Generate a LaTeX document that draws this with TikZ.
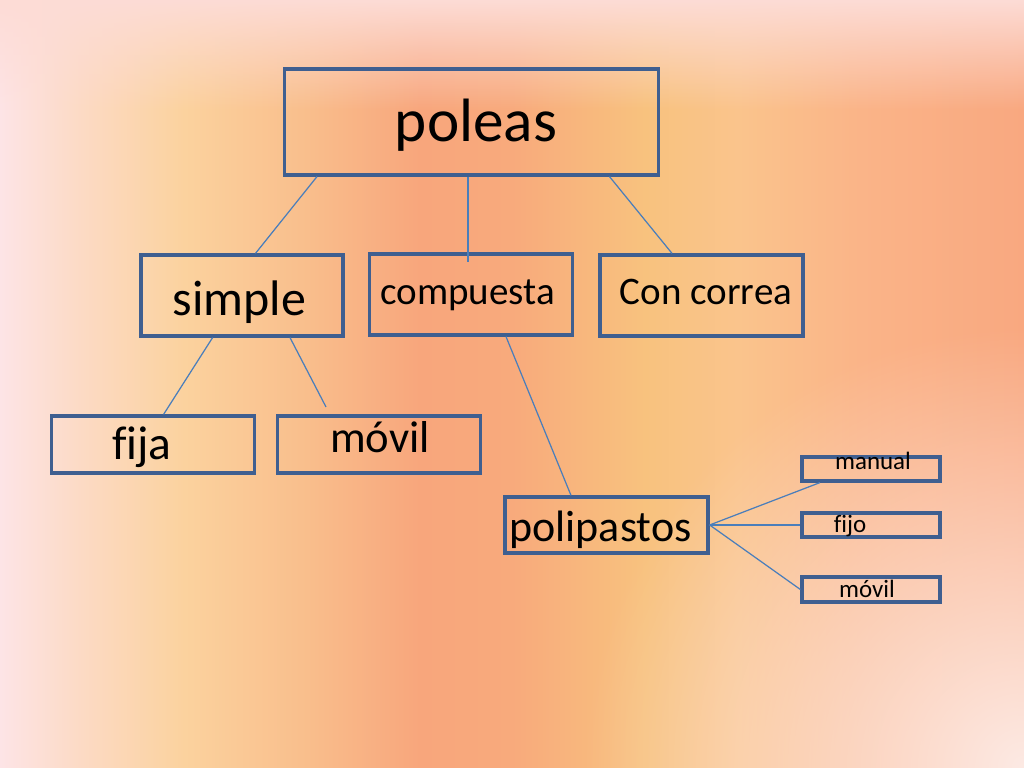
\documentclass[tikz,border=0pt]{standalone}
\usepackage{fontspec}
\setmainfont{Carlito}[Ligatures=NoCommon]
\usetikzlibrary{fadings}

\definecolor{boxline}{HTML}{3F5F90}
\definecolor{linkline}{HTML}{4A7EBB}
\definecolor{bgA}{HTML}{FDE4E6}
\definecolor{bgB}{HTML}{FCDAC4}
\definecolor{bgC}{HTML}{FBD29E}
\definecolor{bgD}{HTML}{F9BE8C}
\definecolor{bgE}{HTML}{F8A67C}
\definecolor{bgF}{HTML}{F8AA7C}
\definecolor{bgG}{HTML}{F8C27E}
\definecolor{bgH}{HTML}{FAC48C}
\definecolor{bgI}{HTML}{FAB488}
\definecolor{bgJ}{HTML}{F9A880}
\definecolor{bgTop}{HTML}{FDDCD6}
\definecolor{bgCorner}{HTML}{FDEAE4}

% stops sit between 25bp and 75bp, the part that fills the path
\pgfdeclarehorizontalshading{slidebg}{100bp}{color(0bp)=(bgA); color(25bp)=(bgA); color(29bp)=(bgB); color(34bp)=(bgC); color(40bp)=(bgD); color(45.5bp)=(bgE); color(50bp)=(bgF); color(56.5bp)=(bgG); color(61bp)=(bgH); color(67bp)=(bgI); color(75bp)=(bgJ); color(100bp)=(bgJ)}
\tikzfading[name=fadecorner, inner color=transparent!0, outer color=transparent!100]

\begin{document}
\begin{tikzpicture}[x=0.01cm, y=-0.01cm]
\tikzset{box/.style={draw=boxline, line width=0.9pt, inner sep=0pt},
  lbl/.style={anchor=base, inner sep=0pt},
  link/.style={draw=linkline, line width=0.35pt}}
\useasboundingbox (0,0) rectangle (1024,768);
\begin{scope}
\clip (0,0) rectangle (1024,768);
\shade[shading=slidebg] (0,0) rectangle (1024,768);
\fill[bgTop, path fading=south] (0,0) rectangle (1024,110);
\fill[bgCorner, path fading=fadecorner] (1024,768) circle (440);
\end{scope}
% boxes
\node[box, minimum width=3.73cm, minimum height=1.06cm] (poleas) at (471.5,122) {};
\node[box, minimum width=2.02cm, minimum height=0.81cm] (simple) at (242,295.5) {};
\node[box, minimum width=2.03cm, minimum height=0.81cm] (compuesta) at (471,294.5) {};
\node[box, minimum width=2.03cm, minimum height=0.81cm] (correa) at (701.5,295.5) {};
\node[box, minimum width=2.03cm, minimum height=0.57cm] (fija) at (153,444.5) {};
\node[box, minimum width=2.03cm, minimum height=0.57cm] (movil) at (379,444.5) {};
\node[box, minimum width=2.03cm, minimum height=0.56cm] (polipastos) at (606.5,525) {};
\node[box, minimum width=1.38cm, minimum height=0.24cm] (manual) at (871,469) {};
\node[box, minimum width=1.38cm, minimum height=0.24cm] (fijo) at (871,525) {};
\node[box, minimum width=1.38cm, minimum height=0.25cm] (movilp) at (871,589.5) {};
% texts
\node[lbl, font=\fontsize{17.4}{20}\selectfont] (poleas-t) at (476,142) {poleas};
\node[lbl, font=\fontsize{14.2}{17}\selectfont] (simple-t) at (239.5,316) {simple};
\node[lbl, font=\fontsize{11.1}{13}\selectfont] (compuesta-t) at (467.5,305) {compuesta};
\node[lbl, font=\fontsize{11.1}{13}\selectfont] (correa-t) at (706,305) {Con correa};
\node[lbl, font=\fontsize{13.5}{16}\selectfont] (fija-t) at (142,460) {fija};
\node[lbl, font=\fontsize{12.7}{15}\selectfont] (movil-t) at (380,453) {móvil};
\node[lbl, font=\fontsize{12.5}{15}\selectfont] (polipastos-t) at (600.5,542) {polipastos};
\node[lbl, font=\fontsize{7.1}{9}\selectfont] (manual-t) at (873,470) {manual};
\node[lbl, font=\fontsize{7.1}{9}\selectfont] (fijo-t) at (850,533) {fijo};
\node[lbl, font=\fontsize{7.1}{9}\selectfont] (movilp-t) at (867,598) {móvil};
% links
\coordinate (cpin) at (468,262);
\coordinate (mvend) at (326,407);
\draw[link] (317,0 |- poleas.south) -- (255.5,0 |- simple.north);
\draw[link] (468,0 |- poleas.south) -- (cpin);
\draw[link] (609.5,0 |- poleas.south) -- (672,0 |- correa.north);
\draw[link] (212.6,0 |- simple.south) -- (163.6,0 |- fija.north);
\draw[link] (290,0 |- simple.south) -- (mvend);
\draw[link] (506,0 |- compuesta.south) -- (571,0 |- polipastos.north);
\draw[link] (polipastos.east) -- (820,0 |- manual.south);
\draw[link] (polipastos.east) -- (fijo.west);
\draw[link] (polipastos.east) -- (movilp.west);
\end{tikzpicture}
\end{document}
